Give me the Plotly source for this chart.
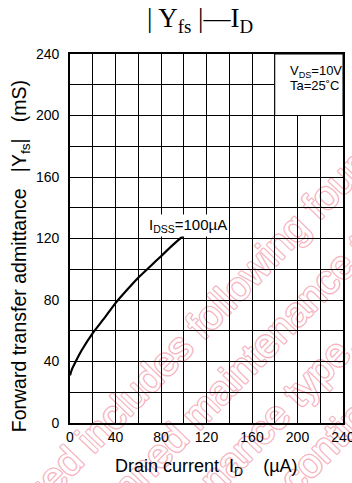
import plotly.graph_objects as go

# |Yfs| versus drain current, IDSS = 100 uA, VDS = 10 V, Ta = 25 C
drain_current_uA = [0, 2, 5, 10, 20, 30, 40, 50, 60, 70, 80, 90, 100]
yfs_mS = [31, 35.5, 40, 47, 58.5, 68, 78, 86.5, 94.5, 101.5, 108.5, 115.5, 122]

tick_vals = [0, 40, 80, 120, 160, 200, 240]
x_tick_labels = ["0", "40", "80", "120", "160", "200", "240"]
y_tick_labels = ["0", "40", "80", "120", "160", "200", "240"]

# lifecycle notice printed diagonally across the sheet
notice_lines = [
    "Discontinued includes following four",
    "planned maintenance type,",
    "maintenance type,",
    "discontinued type.",
]
notice_centers_px = [(133, 388), (246, 357), (234, 452), (360, 404)]

SANS = "Liberation Sans, Arial, sans-serif"
SERIF = "Liberation Serif, Times New Roman, serif"
NB = "\u00a0"

W, H = 352, 483
L, R, T, B = 70, 9, 54, 60
PW, PH = W - L - R, H - T - B


def px_to_paper(px, py):
    return (px - L) / PW, (H - B - py) / PH


fig = go.Figure()
fig.add_trace(go.Scatter(
    x=drain_current_uA, y=yfs_mS, mode="lines",
    line=dict(color="black", width=2.2, shape="spline", smoothing=0.6),
    hoverinfo="skip", showlegend=False,
))

axis_common = dict(
    range=[0, 240], tickvals=tick_vals, automargin=False,
    showgrid=True, gridcolor="black", gridwidth=1,
    minor=dict(dtick=20, showgrid=True, gridcolor="black", gridwidth=1, ticks=""),
    showline=True, linecolor="black", linewidth=1.6, mirror=True,
    zeroline=False, ticks="", tickfont=dict(family=SANS, size=14, color="black"),
    ticklabeloverflow="allow", fixedrange=True,
)
fig.update_xaxes(ticktext=x_tick_labels, ticklabelstandoff=0, **axis_common)
fig.update_yaxes(ticktext=y_tick_labels, ticklabelstandoff=6, **axis_common)

# outlined pink notice text, kept underneath the grid
pink = "rgb(246,180,192)"
outline = ", ".join(f"{dx}px {dy}px 0 {pink}" for dx, dy in
                    [(1, 0), (-1, 0), (0, 1), (0, -1), (1, 1), (-1, -1), (1, -1), (-1, 1)])
dir_x, dir_y = 0.695, -0.719
for text, (cx, cy) in zip(notice_lines, notice_centers_px):
    x0, y0 = px_to_paper(cx - 50 * dir_x, cy - 50 * dir_y)
    x1, y1 = px_to_paper(cx + 50 * dir_x, cy + 50 * dir_y)
    fig.add_shape(type="line", xref="paper", yref="paper", x0=x0, y0=y0, x1=x1, y1=y1,
                  line=dict(color="rgba(0,0,0,0)", width=1), layer="below",
                  label=dict(text=text, textposition="middle", yanchor="middle", padding=0,
                             font=dict(family=SANS, size=40, color="white",
                                       shadow=outline)))

# condition box in the upper right corner
fig.add_shape(type="rect", xref="x", yref="y", x0=180, x1=240, y0=200, y1=240,
              fillcolor="white", line=dict(color="black", width=1), layer="above")
fig.add_annotation(x=192, y=228.3, xref="x", yref="y", xanchor="left", yanchor="middle",
                   text="V<sub>DS</sub>=10V", showarrow=False,
                   font=dict(family=SANS, size=13, color="black"))
fig.add_annotation(x=192, y=219.2, xref="x", yref="y", xanchor="left", yanchor="middle",
                   text="Ta=25˚C", showarrow=False,
                   font=dict(family=SANS, size=13, color="black"))

fig.add_annotation(x=104, y=128.5, xref="x", yref="y", xanchor="center", yanchor="middle",
                   text="I<sub>DSS</sub>=100µA", showarrow=False, bgcolor="white",
                   borderpad=1, font=dict(family=SANS, size=15, color="black"))

fig.add_annotation(x=0.476, y=1, xref="paper", yref="paper", yshift=34,
                   xanchor="center", yanchor="middle",
                   text="| Y<sub>fs</sub> |—I<sub>D</sub>", showarrow=False,
                   font=dict(family=SERIF, size=27, color="black"))

fig.add_annotation(x=-0.183, y=0.452, xref="paper", yref="paper", textangle=-90,
                   xanchor="center", yanchor="middle",
                   text=f"Forward transfer admittance{NB*3}|Y<sub>fs</sub>|{NB*3}(mS)",
                   showarrow=False, font=dict(family=SANS, size=19.5, color="black"))

fig.add_annotation(x=0.5, y=0, xref="paper", yref="paper", yshift=-44,
                   xanchor="center", yanchor="middle",
                   text=f"Drain current{NB*2}I<sub>D</sub>{NB*4}(µA)",
                   showarrow=False, font=dict(family=SANS, size=18, color="black"))

fig.update_layout(
    width=W, height=H,
    margin=dict(l=L, r=R, t=T, b=B),
    paper_bgcolor="white", plot_bgcolor="rgba(0,0,0,0)",
)

fig.write_html("out.html")
